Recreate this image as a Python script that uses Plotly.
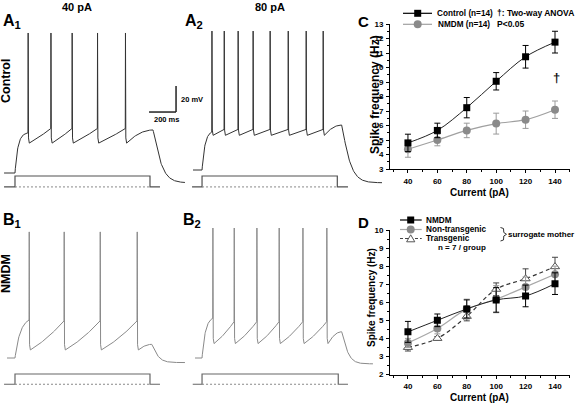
import numpy as np
import plotly.graph_objects as go

# ---------------- data: panels C and D ----------------
currents = [40, 60, 80, 100, 120, 140]
current_ticks = [40, 60, 80, 100, 120, 140]

c_control = [4.8, 5.66, 7.23, 9.05, 10.74, 11.75]
c_control_err = [0.6, 0.5, 0.7, 0.6, 0.78, 0.75]
c_nmdm = [4.36, 5.0, 5.66, 6.13, 6.4, 7.09]
c_nmdm_err = [0.55, 0.4, 0.5, 0.72, 0.6, 0.6]

d_nmdm = [4.36, 5.0, 5.63, 6.13, 6.35, 7.03]
d_nmdm_err = [0.58, 0.35, 0.5, 0.68, 0.6, 0.6]
d_nontg = [3.75, 4.55, 5.62, 6.17, 6.85, 7.55]
d_nontg_err = [0.25, 0.3, 0.55, 0.75, 0.55, 0.45]
d_tg = [3.5, 4.0, 5.22, 6.72, 7.3, 7.97]
d_tg_err = [0.2, 0.1, 0.25, 0.35, 0.55, 0.52]

# ---------------- data: current-clamp sweeps ----------------
# spike times (ms within each sweep window)
a1_spikes = [207, 376, 533, 721, 928]
a2_spikes = [176, 267, 370, 481, 607, 741, 874, 1000]
b1_spikes = [215, 474, 741, 1015]
b2_spikes = [183, 341, 509, 674, 850, 1027]
# [sweep start, step on, step off, end-of-step peak, sweep end] (ms)
a1_times = [30, 111, 1111, 1133, 1370]
a2_times = [37, 104, 1106, 1138, 1437]
b1_times = [52, 111, 1111, 1124, 1370]
b2_times = [52, 104, 1113, 1138, 1370]
# [rest, first threshold, threshold, AHP trough, spike peak, end peak, after-hyperpol.] (mV)
a1_mv = [-70, -39.2, -35.8, -47.0, 37.7, -36.9, -77.5]
a2_mv = [-67.7, -38.5, -36.5, -41.0, 39.2, -33.1, -77.5]
b1_mv = [-70, -40.8, -41.5, -63.8, 27.0, -59.5, -73.5]
b2_mv = [-70, -39.5, -42.1, -58.9, 30.0, -49.8, -74.5]

W, H = 576, 403
PXMS = 0.135   # px per ms
PXMV = 1.3     # px per mV


def fx(x):
    return x / W


def fy(y):
    return 1 - y / H


def sweep(spikes, times, mv, tau_on, tau_off, lin):
    t_start, t_on, t_off, t_peak, t_end = times
    rest, thr0, thr, trough, peak, end_peak, after = mv
    T = [t_start, t_on]
    V = [rest, rest]
    s0 = spikes[0]
    t = np.linspace(t_on, s0, 40)[1:]
    k = (1 - np.exp(-(t - t_on) / tau_on)) / (1 - np.exp(-(s0 - t_on) / tau_on))
    T += list(t)
    V += list(rest + (thr0 - rest) * k)
    for i, s in enumerate(spikes):
        T += [s + 1.5, s + 4, s + 10]
        V += [peak, trough + 4, trough]
        last = i == len(spikes) - 1
        t1 = t_peak if last else spikes[i + 1]
        tgt = end_peak if last else thr
        t = np.linspace(s + 10, t1, 40)[1:]
        u = (t - (s + 10)) / (t1 - (s + 10))
        shape = 1 - (1 - u) ** 2 if last else lin * u + (1 - lin) * u ** 2
        T += list(t)
        V += list(trough + (tgt - trough) * shape)
    t = np.linspace(t_peak, t_end, 80)[1:]
    T += list(t)
    V += list(after + (end_peak - after) * np.exp(-((t - t_peak) / tau_off) ** 1.2))
    return T, V


def stim(t0, t_on, t_off, t1, base, top):
    return [t0, t_on, t_on, t_off, t_off, t1], [base, base, top, top, base, base]


fig = go.Figure()

A_COL = "#333333"
B_COL = "#8a8a8a"
sweeps = [
    (a1_spikes, a1_times, a1_mv, 22, 60, 0.85, "x", "y", A_COL),
    (a2_spikes, a2_times, a2_mv, 22, 60, 0.85, "x2", "y", A_COL),
    (b1_spikes, b1_times, b1_mv, 40, 45, 0.7, "x", "y2", B_COL),
    (b2_spikes, b2_times, b2_mv, 25, 45, 0.7, "x2", "y2", B_COL),
]
for sp, tm, mv, ton, toff, lin, xa, ya, col in sweeps:
    T, V = sweep(sp, tm, mv, ton, toff, lin)
    fig.add_trace(go.Scatter(x=T, y=V, mode="lines", xaxis=xa, yaxis=ya,
                             line=dict(color=col, width=1), hoverinfo="skip"))

# current steps
STIM_A = (-80.7, -72.3)
STIM_B = (-90.2, -82.3)
stims = [
    (30, a1_times[1], a1_times[2], 1185, STIM_A, "x", "y", "#505050"),
    (30, a2_times[1], a2_times[2], 1185, STIM_A, "x2", "y", "#505050"),
    (30, b1_times[1], b1_times[2], 1185, STIM_B, "x", "y2", "#666666"),
    (35, b2_times[1], b2_times[2], 1185, STIM_B, "x2", "y2", "#666666"),
]
for t0, on, off, t1, (base, top), xa, ya, col in stims:
    sx, sy = stim(t0, on, off, t1, base, top)
    fig.add_trace(go.Scatter(x=sx, y=sy, mode="lines", xaxis=xa, yaxis=ya,
                             line=dict(color=col, width=1.2), hoverinfo="skip"))
    fig.add_trace(go.Scatter(x=[on, off], y=[base, base], mode="lines", xaxis=xa, yaxis=ya,
                             line=dict(color="#888888", width=1, dash="2px,2px"), hoverinfo="skip"))

# ---------------- panel C ----------------
fig.add_trace(go.Scatter(x=currents, y=c_nmdm, mode="lines+markers", xaxis="x3", yaxis="y3",
                         line=dict(color="#a0a0a0", width=1.2, shape="spline", smoothing=1),
                         marker=dict(symbol="circle", size=8, color="#8a8a8a"),
                         error_y=dict(type="data", array=c_nmdm_err, color="#9a9a9a", thickness=1, width=3)))
fig.add_trace(go.Scatter(x=currents, y=c_control, mode="lines+markers", xaxis="x3", yaxis="y3",
                         line=dict(color="#222222", width=1, shape="spline", smoothing=1),
                         marker=dict(symbol="square", size=7, color="black"),
                         error_y=dict(type="data", array=c_control_err, color="black", thickness=1, width=3)))

# ---------------- panel D ----------------
fig.add_trace(go.Scatter(x=currents, y=d_tg, mode="lines+markers", xaxis="x4", yaxis="y4",
                         line=dict(color="#333333", width=1.2, dash="4px,3px", shape="spline", smoothing=1),
                         marker=dict(symbol="triangle-up", size=8, color="white",
                                     line=dict(color="#555555", width=1)),
                         error_y=dict(type="data", array=d_tg_err, color="#444444", thickness=1, width=3)))
fig.add_trace(go.Scatter(x=currents, y=d_nontg, mode="lines+markers", xaxis="x4", yaxis="y4",
                         line=dict(color="#a8a8a8", width=1.2, shape="spline", smoothing=1),
                         marker=dict(symbol="circle", size=8, color="#8a8a8a"),
                         error_y=dict(type="data", array=d_nontg_err, color="#9a9a9a", thickness=1, width=3)))
fig.add_trace(go.Scatter(x=currents, y=d_nmdm, mode="lines+markers", xaxis="x4", yaxis="y4",
                         line=dict(color="#222222", width=1, shape="spline", smoothing=1),
                         marker=dict(symbol="square", size=7, color="black"),
                         error_y=dict(type="data", array=d_nmdm_err, color="black", thickness=1, width=3)))

SANS = "Liberation Sans, Arial, sans-serif"

hidden = dict(visible=False, showgrid=False, zeroline=False, fixedrange=True)


def chart_axis(rng, dom, anchor, tickvals, minor_dtick):
    return dict(domain=dom, range=rng, anchor=anchor, showline=True, linecolor="black", linewidth=1,
                ticks="outside", ticklen=3, tickwidth=1, tickcolor="black", tickvals=tickvals,
                showgrid=False, zeroline=False, ticklabelstandoff=1, automargin=False,
                tickfont=dict(family=SANS, size=8, color="black", weight="bold"),
                minor=dict(ticks="outside", ticklen=2, dtick=minor_dtick, tickcolor="black", showgrid=False))


layout = dict(
    width=W, height=H, margin=dict(l=0, r=0, t=0, b=0, pad=0),
    paper_bgcolor="white", plot_bgcolor="rgba(0,0,0,0)", showlegend=False,
    xaxis=dict(hidden, domain=[0, fx(190)], range=[0, 190 / PXMS], anchor="y"),
    xaxis2=dict(hidden, domain=[fx(188), fx(383)], range=[0, 195 / PXMS], anchor="y"),
    yaxis=dict(hidden, domain=[fy(195), 1], range=[-70 - (195 - 173) / PXMV, -70 + 173 / PXMV], anchor="x"),
    yaxis2=dict(hidden, domain=[0, fy(200)], range=[-70 - (403 - 358) / PXMV, -70 + (358 - 200) / PXMV], anchor="x"),
    xaxis3=chart_axis([27.8, 150.2], [fx(390), fx(570)], "y3", current_ticks, 10),
    yaxis3=chart_axis([3, 13], [fy(169), fy(24)], "x3", list(range(3, 14)), 0.5),
    xaxis4=chart_axis([27.8, 150.2], [fx(390), fx(570)], "y4", current_ticks, 10),
    yaxis4=chart_axis([2, 10], [fy(374.5), fy(230)], "x4", list(range(2, 11)), 0.5),
)
fig.update_layout(**layout)

shapes = []
# scale bar (200 ms, 20 mV) in A1 axes
shapes.append(dict(type="line", xref="x", yref="y", x0=1104, x1=1304, y0=-23.1, y1=-23.1,
                   line=dict(color="#222222", width=1.5)))
shapes.append(dict(type="line", xref="x", yref="y", x0=1304, x1=1304, y0=-23.1, y1=-3.1,
                   line=dict(color="#222222", width=1.5)))


def pline(x0, x1, y, color, dash="solid", width=1.2):
    shapes.append(dict(type="line", xref="paper", yref="paper", x0=fx(x0), x1=fx(x1), y0=fy(y), y1=fy(y),
                       line=dict(color=color, width=width, dash=dash)))


def psquare(cx, cy, s, color):
    shapes.append(dict(type="rect", xref="paper", yref="paper", x0=fx(cx - s / 2), x1=fx(cx + s / 2),
                       y0=fy(cy + s / 2), y1=fy(cy - s / 2), fillcolor=color, line=dict(width=0)))


def pcircle(cx, cy, r, color):
    shapes.append(dict(type="circle", xref="paper", yref="paper", x0=fx(cx - r), x1=fx(cx + r),
                       y0=fy(cy + r), y1=fy(cy - r), fillcolor=color, line=dict(width=0)))


def ppath(pts, fill, color):
    d = "M " + " L ".join(f"{fx(x):.5f},{fy(y):.5f}" for x, y in pts)
    if fill:
        d += " Z"
    shapes.append(dict(type="path", xref="paper", yref="paper", path=d,
                       fillcolor=fill if fill else "rgba(0,0,0,0)", line=dict(color=color, width=1)))


# legend C
pline(403, 432, 13.3, "black", width=1.2)
psquare(417.7, 13.3, 7, "black")
pline(403, 432, 24.3, "#a0a0a0", width=1.2)
pcircle(417.7, 24.3, 4, "#8a8a8a")
# legend D
pline(400, 421.7, 220, "black", width=1.2)
psquare(410.7, 220, 7, "black")
pline(400, 421.7, 229.5, "#a8a8a8", width=1.2)
pcircle(410.7, 229.5, 4, "#8a8a8a")
pline(400, 421.7, 238.5, "#444444", dash="3px,2px", width=1.2)
ppath([(410.7, 234.8), (406.6, 241.8), (414.8, 241.8)], "white", "#555555")
# brace
ppath([(500.5, 227.5), (503.5, 228.5), (503.8, 232.5), (506.5, 234.3), (503.8, 236), (503.5, 240), (500.5, 241)],
      None, "#333333")
fig.update_layout(shapes=shapes)

ann = []


def text(x, y, s, size, bold=True, xanchor="left", angle=0, color="black"):
    ann.append(dict(x=fx(x), y=fy(y), xref="paper", yref="paper", text=s, showarrow=False,
                    xanchor=xanchor, yanchor="middle", textangle=angle,
                    font=dict(family=SANS, size=size, color=color, weight="bold" if bold else "normal")))


text(76.7, 7, "40 pA", 11, xanchor="center")
text(270, 7, "80 pA", 11, xanchor="center")
text(1, 22, "A<sub>1</sub>", 16)
text(183, 22, "A<sub>2</sub>", 16)
text(1, 220, "B<sub>1</sub>", 16)
text(181, 220, "B<sub>2</sub>", 16)
text(356, 22, "C", 15)
text(356, 222, "D", 15)
text(6, 81, "Control", 12.5, xanchor="center", angle=-90)
text(6, 274, "NMDM", 12.5, xanchor="center", angle=-90)
text(179, 99.5, "20 mV", 7.5)
text(166, 119.5, "200 ms", 7.5, xanchor="center")
# C
text(434.5, 13.3, "Control (n=14)", 8.2)
text(436, 24.3, "NMDM (n=14)", 8.2)
text(495, 13.3, "†: Two-way ANOVA", 8.5)
text(495, 24.3, "P&lt;0.05", 8.5)
text(556, 77, "†", 13, xanchor="center", color="#111111")
text(375, 95, "Spike frequency (Hz)", 12, xanchor="center", angle=-90)
text(479, 192.5, "Current (pA)", 10)
# D
text(423.5, 220, "NMDM", 8.2)
text(423.5, 229.5, "Non-transgenic", 8.2)
text(423.5, 238.5, "Transgenic", 8.2)
text(506, 234.3, "surrogate mother", 8)
text(435.7, 247.5, "n = 7 / group", 8)
text(371.5, 297.5, "Spike frequency (Hz)", 10, xanchor="center", angle=-90)
text(479, 397.3, "Current (pA)", 10)
for a in ann:
    if a["text"] == "Current (pA)":
        a["xanchor"] = "center"
fig.update_layout(annotations=ann)

fig.write_html("out.html", config={"displayModeBar": False},
               post_script="document.body.style.margin='0';document.body.style.overflow='hidden';")
